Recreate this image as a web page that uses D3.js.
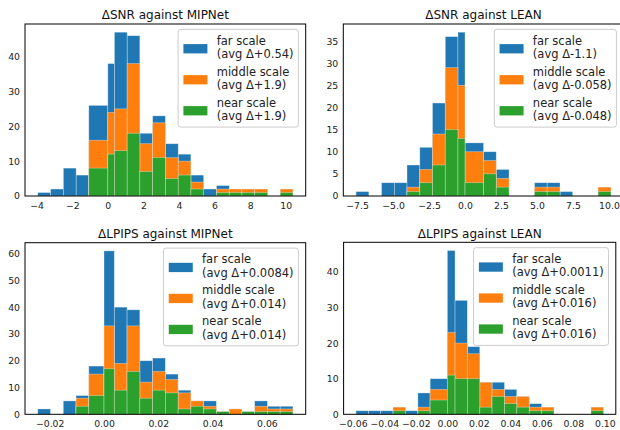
<!DOCTYPE html>
<html>
<head>
<meta charset="utf-8">
<script src="https://cdn.jsdelivr.net/npm/d3@7"></script>
<style>
  body { margin: 0; background: #fff; }
  svg { display: block; font-family: 'DejaVu Sans', sans-serif; }
</style>
</head>
<body>
<script>
// series shared by all four panels
const seriesNames = ['far scale', 'middle scale', 'near scale']
const colors = ['#1f77b4', '#ff7f0e', '#2ca02c']

// dSNR against MIPNet
const snrMipEdges = [-3.94, -3.22, -2.5, -1.78, -1.07, 0, 0.37, 1.09, 1.8, 2.52, 3.24, 3.96, 4.67, 5.39, 6.11, 6.83, 7.54, 8.26, 8.98, 9.7, 10.41]
const snrMipFar  = [1, 2, 8, 6, 26, 38, 47, 46, 18, 23, 15, 12, 6, 2, 3, 2, 2, 2, 0, 2]
const snrMipMid  = [0, 0, 0, 0, 16, 24, 25, 38, 15, 21, 11, 10, 4, 0, 2, 2, 2, 2, 0, 2]
const snrMipNear = [0, 0, 0, 0, 8, 12, 13, 18, 7, 11, 5, 6, 2, 0, 1, 1, 1, 1, 0, 1]
const snrMipAvg  = ['+0.54', '+1.9', '+1.9']
const snrMipXTicks = [-4, -2, 0, 2, 4, 6, 8, 10]
const snrMipYTicks = [0, 10, 20, 30, 40]

// dSNR against LEAN
const snrLeanEdges = [-7.57, -6.68, -5.8, -4.91, -4.03, -3.14, -2.26, -1.37, -0.49, 0, 1.29, 2.17, 3.06, 3.94, 4.83, 5.71, 6.6, 7.48, 8.37, 9.25, 10.14]
const snrLeanFar  = [1, 0, 3, 3, 7, 11, 21, 36, 37, 12, 10, 6, 0, 0, 3, 3, 1, 0, 0, 2]
const snrLeanMid  = [0, 0, 0, 0, 2, 6, 14, 29, 25, 10, 8, 4, 0, 0, 2, 2, 0, 0, 0, 2]
const snrLeanNear = [0, 0, 0, 0, 1, 3, 7, 15, 13, 3, 5, 2, 0, 0, 1, 1, 0, 0, 0, 1]
const snrLeanAvg  = ['-1.1', '-0.058', '-0.048']
const snrLeanXTicks = [-7.5, -5, -2.5, 0, 2.5, 5, 7.5, 10]
const snrLeanYTicks = [0, 5, 10, 15, 20, 25, 30, 35]

// dLPIPS against MIPNet
const lpMipEdges = [-0.0244, -0.0197, -0.015, -0.0103, -0.0056, 0, 0.0038, 0.0085, 0.0132, 0.0179, 0.0226, 0.0273, 0.032, 0.0367, 0.0414, 0.0461, 0.0508, 0.0555, 0.0602, 0.0649, 0.0696]
const lpMipFar  = [2, 0, 5, 7, 18, 61, 40, 39, 20, 21, 15, 9, 5, 5, 1, 2, 1, 5, 3, 3]
const lpMipMid  = [0, 0, 0, 6, 15, 33, 19, 33, 12, 16, 13, 8, 5, 3, 1, 2, 1, 3, 2, 2]
const lpMipNear = [0, 0, 0, 3, 7, 17, 9, 16, 6, 9, 8, 2, 3, 2, 1, 0, 1, 1, 1, 1]
const lpMipAvg  = ['+0.0084', '+0.014', '+0.014']
const lpMipXTicks = [-0.02, 0, 0.02, 0.04, 0.06]
const lpMipYTicks = [0, 10, 20, 30, 40, 50, 60]

// dLPIPS against LEAN
const lpLeanEdges = [-0.058, -0.0501, -0.0423, -0.0344, -0.0265, -0.0187, -0.0109, 0, 0.0049, 0.0127, 0.0206, 0.0284, 0.0363, 0.0441, 0.052, 0.0599, 0.0677, 0.0756, 0.0834, 0.0912, 0.0991]
const lpLeanFar  = [1, 1, 1, 2, 1, 6, 10, 46, 32, 19, 9, 9, 7, 5, 3, 2, 0, 0, 0, 2]
const lpLeanMid  = [0, 0, 0, 2, 0, 2, 7, 23, 20, 17, 9, 7, 5, 5, 2, 2, 0, 0, 0, 2]
const lpLeanNear = [0, 0, 0, 1, 0, 1, 4, 11, 10, 10, 2, 5, 3, 2, 1, 1, 0, 0, 0, 1]
const lpLeanAvg  = ['+0.0011', '+0.016', '+0.016']
const lpLeanXTicks = [-0.06, -0.04, -0.02, 0, 0.02, 0.04, 0.06, 0.08, 0.1]
const lpLeanYTicks = [0, 10, 20, 30, 40]

const panels = [
  { title: 'ΔSNR against MIPNet', edges: snrMipEdges, series: [snrMipFar, snrMipMid, snrMipNear], avg: snrMipAvg,
    xTicks: snrMipXTicks, yTicks: snrMipYTicks, fmt: d3.format('d'), box: { l: 25, r: 305.7, t: 24, b: 196 } },
  { title: 'ΔSNR against LEAN', edges: snrLeanEdges, series: [snrLeanFar, snrLeanMid, snrLeanNear], avg: snrLeanAvg,
    xTicks: snrLeanXTicks, yTicks: snrLeanYTicks, fmt: d3.format('.1f'), box: { l: 343.3, r: 623.7, t: 24, b: 196 } },
  { title: 'ΔLPIPS against MIPNet', edges: lpMipEdges, series: [lpMipFar, lpMipMid, lpMipNear], avg: lpMipAvg,
    xTicks: lpMipXTicks, yTicks: lpMipYTicks, fmt: d3.format('.2f'), box: { l: 25, r: 305.7, t: 242.7, b: 414.3 } },
  { title: 'ΔLPIPS against LEAN', edges: lpLeanEdges, series: [lpLeanFar, lpLeanMid, lpLeanNear], avg: lpLeanAvg,
    xTicks: lpLeanXTicks, yTicks: lpLeanYTicks, fmt: d3.format('.2f'), box: { l: 343.6, r: 615.8, t: 242.3, b: 414.3 } }
]

const svg = d3.select('body').append('svg')
  .attr('width', 620)
  .attr('height', 430)

function drawPanel(p) {
  const lo = p.edges[0]
  const hi = p.edges[p.edges.length - 1]
  const pad = (hi - lo) * 0.05
  const x = d3.scaleLinear().domain([lo - pad, hi + pad]).range([p.box.l, p.box.r])
  const y = d3.scaleLinear().domain([0, d3.max(p.series[0]) * 1.05]).range([p.box.b, p.box.t])

  const g = svg.append('g')

  // bars: far first, then middle, near on top
  p.series.forEach((vals, si) => {
    const bins = vals.map((v, i) => ({ x0: p.edges[i], x1: p.edges[i + 1], v })).filter(d => d.v > 0)
    g.append('g').selectAll('rect').data(bins).enter()
      .append('rect')
      .attr('x', d => x(d.x0))
      .attr('width', d => x(d.x1) - x(d.x0))
      .attr('y', d => y(d.v))
      .attr('height', d => y(0) - y(d.v))
      .attr('fill', colors[si])
      .attr('stroke', 'rgba(255,255,255,0.45)')
      .attr('stroke-width', 0.7)
  })

  // axes box
  g.append('rect')
    .attr('x', p.box.l).attr('y', p.box.t)
    .attr('width', p.box.r - p.box.l).attr('height', p.box.b - p.box.t)
    .attr('fill', 'none').attr('stroke', '#000').attr('stroke-width', 1)

  const xAxis = g.append('g')
    .attr('transform', `translate(0,${p.box.b})`)
    .call(d3.axisBottom(x).tickValues(p.xTicks).tickFormat(p.fmt).tickSize(0).tickPadding(6))
  const yAxis = g.append('g')
    .attr('transform', `translate(${p.box.l},0)`)
    .call(d3.axisLeft(y).tickValues(p.yTicks).tickFormat(d3.format('d')).tickSize(0).tickPadding(5))
  ;[xAxis, yAxis].forEach(a => {
    a.select('.domain').remove()
    a.selectAll('text').attr('font-size', 9.3).attr('fill', '#222').attr('font-family', 'DejaVu Sans')
  })

  g.append('text')
    .attr('x', (p.box.l + p.box.r) / 2)
    .attr('y', p.box.t - 4.8)
    .attr('text-anchor', 'middle')
    .attr('font-size', 12)
    .attr('fill', '#111')
    .text(p.title)

  // legend, two text lines per entry
  const lg = g.append('g')
  const texts = []
  seriesNames.forEach((n, i) => {
    [n, `(avg Δ${p.avg[i]})`].forEach((s, j) => {
      texts.push({ i, j, el: lg.append('text').attr('font-size', 11.5).attr('fill', '#222').text(s) })
    })
  })
  const textW = d3.max(texts, t => t.el.node().getComputedTextLength())
  const w = 38.6 + textW + 4.8
  const lx = p.box.r - 7.3 - w
  const ly = p.box.t + 5.4
  lg.insert('rect', ':first-child')
    .attr('x', lx).attr('y', ly)
    .attr('width', w).attr('height', 97.7)
    .attr('rx', 2.5)
    .attr('fill', 'rgba(255,255,255,0.8)')
    .attr('stroke', '#cccccc')
    .attr('stroke-width', 1)
  texts.forEach(t => {
    t.el.attr('x', lx + 38.6).attr('y', ly + 15.1 + 31 * t.i + 13.5 * t.j)
  })
  colors.forEach((c, i) => {
    lg.append('rect')
      .attr('x', lx + 5.3).attr('y', ly + 14.7 + 31 * i)
      .attr('width', 24).attr('height', 9.3)
      .attr('fill', c)
  })
}

panels.forEach(drawPanel)
</script>
</body>
</html>
